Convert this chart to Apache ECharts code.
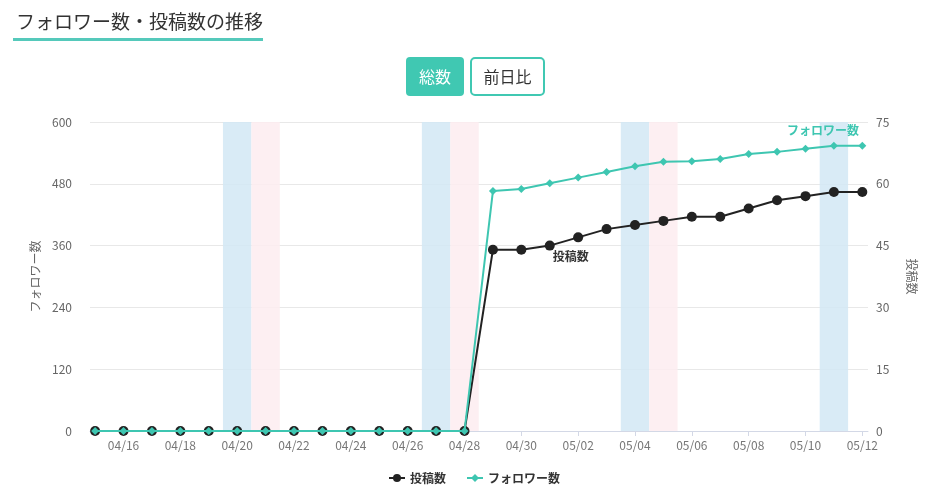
<!DOCTYPE html>
<html>
<head>
<meta charset="utf-8">
<script src="https://cdn.jsdelivr.net/npm/echarts@6/dist/echarts.min.js"></script>
<style>
html,body{margin:0;padding:0;background:#fff;}
#chart{width:933px;height:491px;}
</style>
</head>
<body>
<div id="chart"></div>
<script>
// ---- data ----
const dates = ['04/15','04/16','04/17','04/18','04/19','04/20','04/21','04/22','04/23','04/24','04/25','04/26','04/27','04/28',
               '04/29','04/30','05/01','05/02','05/03','05/04','05/05','05/06','05/07','05/08','05/09','05/10','05/11','05/12'];
const followers = [0,0,0,0,0,0,0,0,0,0,0,0,0,0,
                   466,470,481,492,503,514,523,524,528,538,542,548,554,554];
const posts = [0,0,0,0,0,0,0,0,0,0,0,0,0,0,
               44,44,45,47,49,50,51,52,52,54,56,57,58,58];
const tickLabels = ['04/16','04/18','04/20','04/22','04/24','04/26','04/28','04/30','05/02','05/04','05/06','05/08','05/10','05/12'];
const saturdays = ['04/20','04/27','05/04','05/11'];
const sundays = ['04/21','04/28','05/05'];

const TEAL = '#3ec6b1';
const DARK = '#222222';
const FONT = '"Noto Sans CJK JP", "Noto Sans", sans-serif';

const idx = d => dates.indexOf(d);
const band = d => [{xAxis: idx(d) - 0.5}, {xAxis: idx(d) + 0.5}];

const postsData = posts.map((v, i) => {
  const p = {value: [i, v]};
  if (dates[i] === '05/01') {
    p.label = {show: true, position: 'bottom', offset: [21, -5], formatter: '投稿数',
               color: '#333', fontWeight: 'bold', fontSize: 12, fontFamily: FONT};
  }
  return p;
});
const followersData = followers.map((v, i) => {
  const p = {value: [i, v]};
  if (dates[i] === '05/11') {
    p.label = {show: true, position: 'top', offset: [-11, 0], formatter: 'フォロワー数',
               color: TEAL, fontWeight: 'bold', fontSize: 12, fontFamily: FONT};
  }
  return p;
});

const chart = echarts.init(document.getElementById('chart'));
chart.setOption({
  animation: false,
  textStyle: {fontFamily: FONT},
  title: {
    text: 'フォロワー数・投稿数の推移',
    left: 11, top: 7,
    textStyle: {fontSize: 19, fontWeight: 'normal', color: '#333', fontFamily: FONT}
  },
  graphic: [
    {type: 'rect', shape: {x: 13, y: 38, width: 250, height: 3}, style: {fill: '#55c9bb'}},
    {type: 'rect', shape: {x: 406, y: 57, width: 58, height: 39, r: 4}, style: {fill: '#40c8b2'}},
    {type: 'text', x: 435, y: 76.5, style: {text: '総数', fill: '#fff', fontSize: 16, fontFamily: FONT, align: 'center', verticalAlign: 'middle'}},
    {type: 'rect', shape: {x: 471, y: 58, width: 73, height: 37, r: 4}, style: {fill: '#fff', stroke: '#40c8b2', lineWidth: 2}},
    {type: 'text', x: 507.5, y: 76.5, style: {text: '前日比', fill: '#333', fontSize: 16, fontFamily: FONT, align: 'center', verticalAlign: 'middle'}}
  ],
  legend: {
    bottom: 2, left: 383,
    itemGap: 20, itemWidth: 16, itemHeight: 10,
    textStyle: {color: '#333', fontSize: 12, fontWeight: 'bold', fontFamily: FONT},
    data: ['投稿数', 'フォロワー数']
  },
  grid: {left: 90, right: 65, top: 122, bottom: 60},
  xAxis: {
    type: 'value',
    min: -0.18, max: 27.2,
    splitLine: {show: false},
    axisLine: {lineStyle: {color: '#d3d8e6'}},
    axisTick: {show: true, length: 5, lineStyle: {color: '#d3d8e6'}, customValues: tickLabels.map(idx)},
    axisLabel: {customValues: tickLabels.map(idx), formatter: v => dates[Math.round(v)], color: '#777', fontSize: 12, margin: 8, fontFamily: FONT}
  },
  yAxis: [
    {
      type: 'value', min: 0, max: 600, interval: 120,
      name: 'フォロワー数', nameLocation: 'middle', nameGap: 49,
      nameTextStyle: {color: '#666', fontSize: 12, fontFamily: FONT},
      axisLine: {show: false}, axisTick: {show: false},
      axisLabel: {color: '#666', fontSize: 12, margin: 18, fontFamily: FONT},
      splitLine: {lineStyle: {color: '#e8e8e8'}}
    },
    {
      type: 'value', min: 0, max: 75, interval: 15,
      name: '投稿数', nameLocation: 'middle', nameGap: 38, nameRotate: -90,
      nameTextStyle: {color: '#666', fontSize: 12, fontFamily: FONT},
      axisLine: {show: false}, axisTick: {show: false},
      axisLabel: {color: '#666', fontSize: 12, margin: 8, fontFamily: FONT},
      splitLine: {show: false}
    }
  ],
  series: [
    {
      name: '投稿数', type: 'line', yAxisIndex: 1,
      data: postsData,
      symbol: 'circle', symbolSize: 10,
      lineStyle: {color: DARK, width: 2},
      itemStyle: {color: DARK},
      z: 2,
      markArea: {
        silent: true,
        data: saturdays.map(d => [Object.assign({itemStyle: {color: 'rgba(210,231,244,0.85)'}}, band(d)[0]), band(d)[1]])
          .concat(sundays.map(d => [Object.assign({itemStyle: {color: 'rgba(253,236,240,0.85)'}}, band(d)[0]), band(d)[1]]))
      }
    },
    {
      name: 'フォロワー数', type: 'line', yAxisIndex: 0,
      data: followersData,
      symbol: 'diamond', symbolSize: 8,
      lineStyle: {color: TEAL, width: 2},
      itemStyle: {color: TEAL},
      z: 3
    }
  ]
});
</script>
</body>
</html>
